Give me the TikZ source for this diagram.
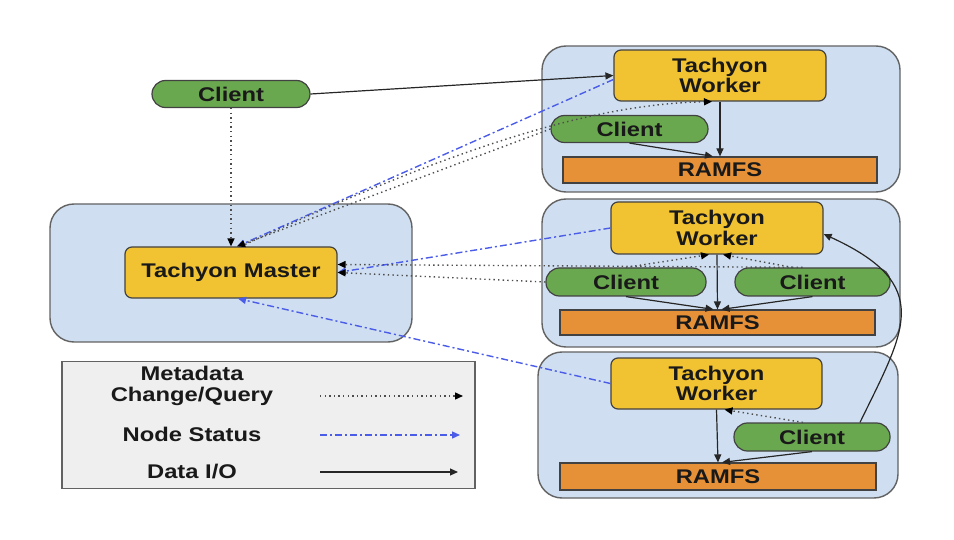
\documentclass[tikz,border=0pt]{standalone}
\usepackage{fontspec}
\setmainfont{Liberation Sans}[FakeStretch=1.2]
\usetikzlibrary{arrows.meta}
\definecolor{groupblue}{HTML}{CFDFF1}
\definecolor{groupgray}{HTML}{626262}
\definecolor{tachyonyellow}{HTML}{F1C232}
\definecolor{clientgreen}{HTML}{6AA84F}
\definecolor{ramorange}{HTML}{E69138}
\definecolor{legendgray}{HTML}{EFEFEF}
\definecolor{statusblue}{HTML}{4A5CE8}
\definecolor{metagray}{HTML}{4D4D4D}
\definecolor{edgegray}{HTML}{424242}

\begin{document}
\begin{tikzpicture}[x=1pt, y=-1pt,
	every node/.style={font=\fontsize{19.8}{20.5}\selectfont\bfseries, inner sep=0pt, text=black!90},
	group/.style={draw=groupgray, line width=1.4pt, fill=groupblue, rounded corners=24pt},
	tachyon/.style={draw=edgegray, line width=1.2pt, fill=tachyonyellow, rounded corners=7pt, minimum width=212pt, minimum height=51pt, align=center},
	client/.style={draw=edgegray, line width=1.2pt, fill=clientgreen, rounded corners=13.5pt, minimum width=157pt, minimum height=27pt},
	ramfs/.style={draw=edgegray, line width=1.2pt, fill=ramorange, minimum width=315pt, minimum height=26pt},
	meta line/.style={metagray, line width=1.4pt, dash pattern=on 1.4pt off 3.2pt, -{Triangle[length=8pt,width=7pt,black]}},
	status line/.style={statusblue, line width=1.4pt, dash pattern=on 7pt off 3pt on 2pt off 3pt, -{Triangle[length=8pt,width=7pt]}},
	data line/.style={black!85, line width=1.2pt, -{Triangle[length=8pt,width=7pt]}}]
	\useasboundingbox (0,0) rectangle (954,540);
	\node[group, minimum width=362pt, minimum height=138pt] (master box) at (231,273) {};
	\node[group, minimum width=358pt, minimum height=146pt] (box1) at (721,119) {};
	\node[group, minimum width=358pt, minimum height=148pt] (box2) at (721,273) {};
	\node[group, minimum width=360pt, minimum height=146pt] (box3) at (718,425) {};
	\node[draw=groupgray, line width=1.3pt, fill=legendgray, minimum width=413pt, minimum height=127pt] (legend) at (268.5,425) {};

	\node[client, minimum width=158pt] (cl0) at (231,94) {Client};
	\node[tachyon] (master) at (231,272.5) {Tachyon Master};

	\node[tachyon] (w1) at (720,75.5) {Tachyon\\Worker};
	\node[client] (c1) at (629.5,129) {Client};
	\node[ramfs, minimum width=314pt] (r1) at (720,170) {RAMFS};

	\node[tachyon, minimum height=52pt] (w2) at (717,228) {Tachyon\\Worker};
	\node[client, minimum width=160pt, minimum height=28pt] (c2a) at (626,282) {Client};
	\node[client, minimum width=155pt, minimum height=28pt] (c2b) at (812.5,282) {Client};
	\node[ramfs, minimum height=25pt] (r2) at (717.5,322.5) {RAMFS};

	\node[tachyon, minimum width=211pt] (w3) at (716.5,383.5) {Tachyon\\Worker};
	\node[client, minimum width=156pt, minimum height=28pt] (c3) at (812,437) {Client};
	\node[ramfs, minimum width=316pt, minimum height=27pt] (r3) at (718,476.5) {RAMFS};

	\node[align=center] (meta text) at (192,386) {Metadata\\Change/Query};
	\node (status text) at (192,434) {Node Status};
	\node (data text) at (192,472) {Data I/O};
	\coordinate (meta from) at (320,396);
	\coordinate (meta to) at (463,396);
	\coordinate (status from) at (320,435);
	\coordinate (status to) at (460,435);
	\coordinate (data from) at (320,472);
	\coordinate (data to) at (458,472);
	\draw[meta line] (meta from) -- (meta to);
	\draw[status line] (status from) -- (status to);
	\draw[data line] (data from) -- (data to);

	\draw[data line] (cl0.east) -- (w1.west);
	\draw[meta line] (cl0.south) -- (master.north);
	\draw[status line] ([yshift=-4pt]w1.west) -- ([xshift=6pt]master.north);
	\draw[meta line] ([xshift=10pt]master.north) .. controls (470,140) and (600,104) .. ([xshift=-8pt]w1.south);
	\draw[meta line] (c1.west) -- ([xshift=6pt]master.north);
	\draw[data line] (w1.south) -- (r1.north);
	\draw[data line] (c1.south) -- ([xshift=-7pt]r1.north);

	\draw[status line] (w2.west) -- (master.east);
	\draw[meta line] ([xshift=-10pt]c2b.north) -- ([yshift=8pt]master.east);
	\draw[meta line] (c2a.west) -- (master.east);
	\draw[meta line] (c2a.north) -- ([xshift=-8pt]w2.south);
	\draw[meta line] ([xshift=-20pt]c2b.north) -- ([xshift=6pt]w2.south);
	\draw[data line] (w2.south) -- (r2.north);
	\draw[data line] (c2a.south) -- ([xshift=-4pt]r2.north);
	\draw[data line] (c2b.south) -- ([xshift=4pt]r2.north);

	\draw[status line] (w3.west) -- ([xshift=7pt]master.south);
	\draw[meta line] ([xshift=-9pt]c3.north) -- ([xshift=8pt]w3.south);
	\draw[data line] (w3.south) -- (r3.north);
	\draw[data line] (c3.south) -- ([xshift=4pt]r3.north);
	\draw[data line] ([xshift=48pt]c3.north) .. controls (905,330) and (935,285) .. ([yshift=-6pt]w2.east);
\end{tikzpicture}
\end{document}
